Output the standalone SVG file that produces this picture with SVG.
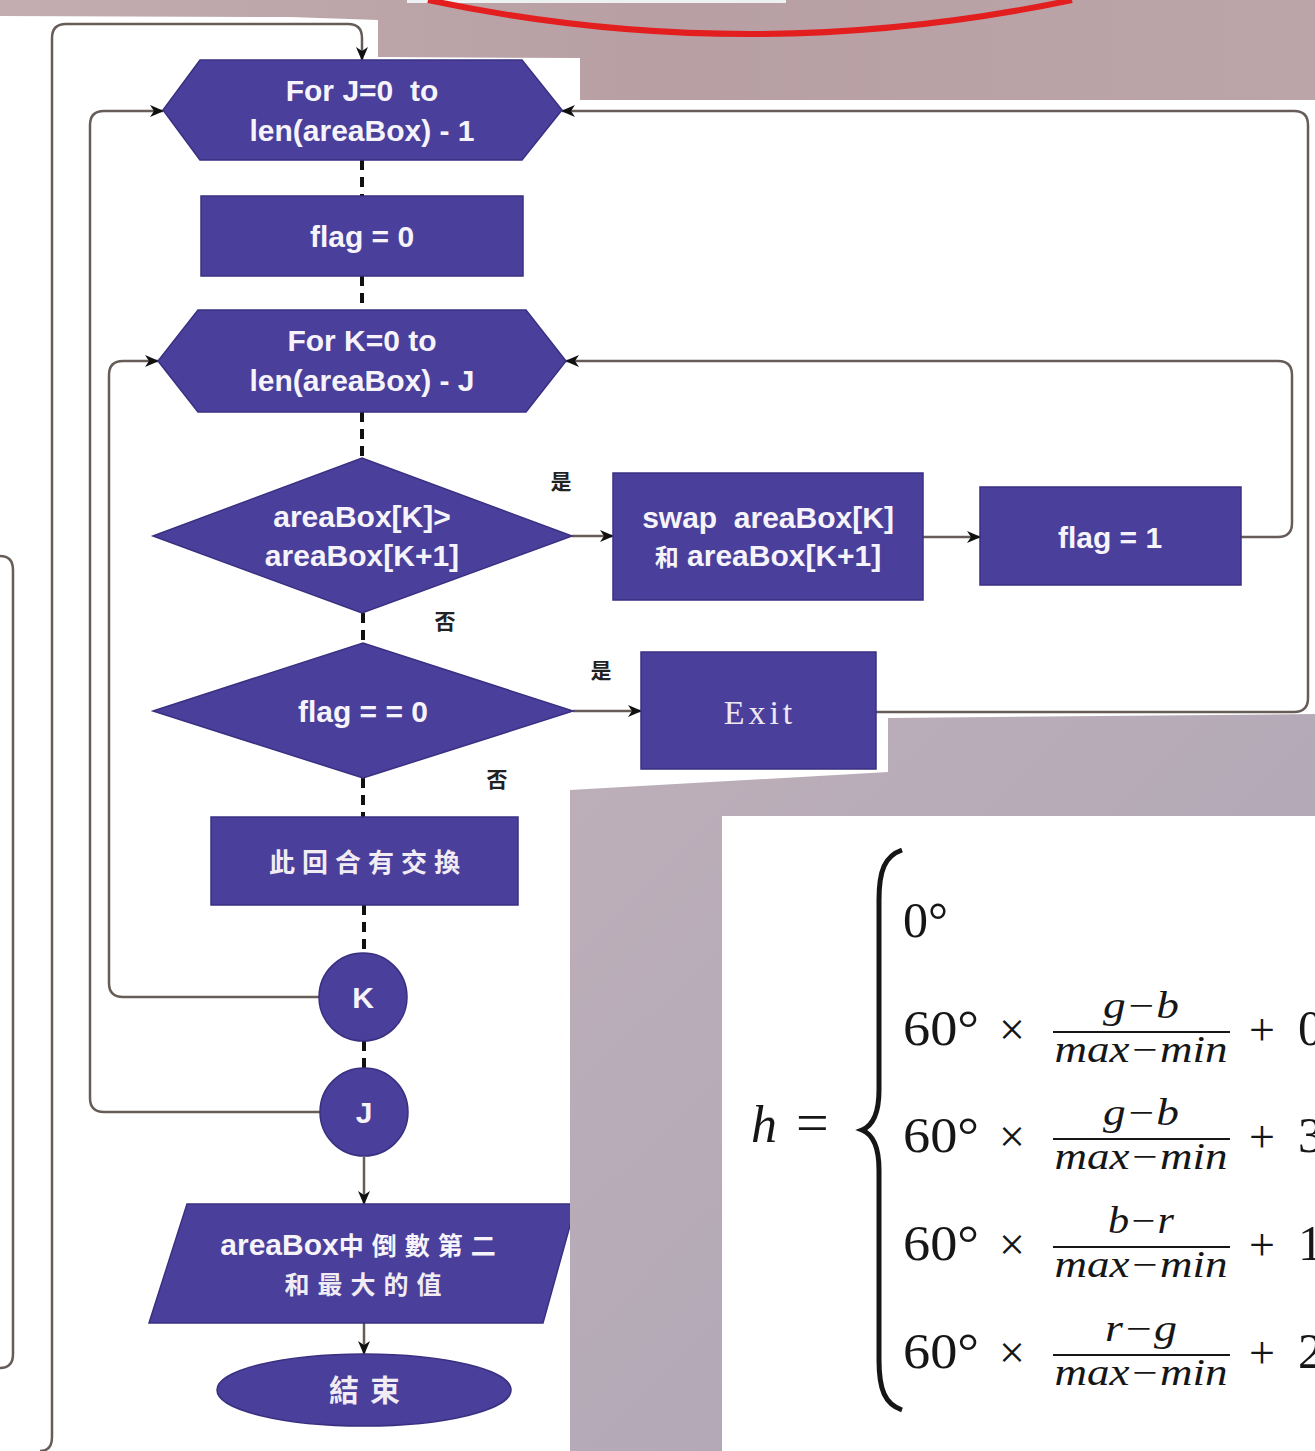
<svg xmlns="http://www.w3.org/2000/svg" width="1315" height="1451" viewBox="0 0 1315 1451">
<defs>
<linearGradient id="pinkTop" x1="0" y1="0" x2="1" y2="0">
<stop offset="0" stop-color="#c3adb0"/><stop offset="0.5" stop-color="#b79fa4"/><stop offset="1" stop-color="#bca5a9"/>
</linearGradient>
<linearGradient id="pinkLow" x1="0" y1="0" x2="1" y2="1">
<stop offset="0" stop-color="#bdafb9"/><stop offset="0.5" stop-color="#b5aab7"/><stop offset="1" stop-color="#aca2b1"/>
</linearGradient>
<marker id="ah" viewBox="0 0 14 12" refX="13" refY="6" markerWidth="14" markerHeight="12" orient="auto" markerUnits="userSpaceOnUse">
<path d="M0,0 L14,6 L0,12 L4,6 z" fill="#111"/>
</marker>
<style>
.node{fill:#4a3f9b;stroke:#3a3082;stroke-width:1.5}
.t{font-family:'Liberation Sans',Arial,'Noto Sans CJK TC',sans-serif;font-weight:bold;font-size:30px;fill:#f6f4fa;text-anchor:middle;white-space:pre}
.cjk{font-family:'Noto Sans CJK TC','Noto Sans CJK SC',sans-serif;font-weight:bold;fill:#f1ecf4;text-anchor:middle}
.lbl{font-family:'Noto Sans CJK TC','Noto Sans CJK SC',sans-serif;font-size:21px;font-weight:bold;fill:#222;text-anchor:middle}
.c{fill:none;stroke:#675d58;stroke-width:2.5}
.d{fill:none;stroke:#111;stroke-width:4;stroke-dasharray:10 7}
.m{font-family:'Liberation Serif','DejaVu Serif',serif;fill:#161616}
.mi{font-family:'Liberation Serif','DejaVu Serif',serif;font-style:italic;fill:#161616;text-anchor:middle;font-size:37px}
.bar{stroke:#161616;stroke-width:2}
</style>
</defs>

<!-- background photo areas -->
<rect x="0" y="0" width="1315" height="1451" fill="url(#pinkTop)"/>
<polygon points="0,16 290,17 378,20 378,57 580,58 580,100 1315,100 1315,1451 0,1451" fill="#ffffff"/>
<rect x="407" y="0" width="379" height="3" fill="#eef1f1"/>
<path d="M 428 0 Q 748 68 1072 0" fill="none" stroke="#e31e1e" stroke-width="6"/>

<!-- connectors -->
<g id="connectors">
<path class="c" d="M 0 556 Q 13 556 13 570 L 13 1354 Q 13 1368 0 1368"/>
<path class="c" d="M 40 1451 Q 52 1451 52 1437 L 52 38 Q 52 24 66 24 L 348 24 Q 362 24 362 38 L 362 60" marker-end="url(#ah)"/>
<path class="c" d="M 320 1112 L 104 1112 Q 90 1112 90 1098 L 90 125 Q 90 111 104 111 L 163 111" marker-end="url(#ah)"/>
<path class="c" d="M 319 997 L 123 997 Q 109 997 109 983 L 109 375 Q 109 361 123 361 L 158 361" marker-end="url(#ah)"/>
<path class="c" d="M 876 712 L 1294 712 Q 1308 712 1308 698 L 1308 125 Q 1308 111 1294 111 L 562 111" marker-end="url(#ah)"/>
<path class="c" d="M 1241 537 L 1278 537 Q 1292 537 1292 523 L 1292 375 Q 1292 361 1278 361 L 566 361" marker-end="url(#ah)"/>
<path class="c" d="M 572 536 L 613 536" marker-end="url(#ah)"/>
<path class="c" d="M 923 537 L 980 537" marker-end="url(#ah)"/>
<path class="c" d="M 573 711 L 641 711" marker-end="url(#ah)"/>
<path class="c" d="M 364 1157 L 364 1204" marker-end="url(#ah)"/>
<path class="c" d="M 364 1323 L 364 1354" marker-end="url(#ah)"/>
<path class="d" d="M 362 160 L 362 196"/>
<path class="d" d="M 362 276 L 362 310"/>
<path class="d" d="M 362 412 L 362 458"/>
<path class="d" d="M 363 613 L 363 643"/>
<path class="d" d="M 363 778 L 363 817"/>
<path class="d" d="M 364 905 L 364 953"/>
<path class="d" d="M 364 1041 L 364 1068"/>
<text class="lbl" x="561" y="489">是</text>
<text class="lbl" x="445" y="629">否</text>
<text class="lbl" x="601" y="678">是</text>
<text class="lbl" x="497" y="787">否</text>
</g>

<!-- nodes -->
<g id="forJ">
<polygon class="node" points="200,60 522,60 562,110 522,160 200,160 163,110"/>
<text class="t" x="362" y="101">For J=0  to</text>
<text class="t" x="362" y="141">len(areaBox) - 1</text>
</g>
<g id="flag0">
<rect class="node" x="201" y="196" width="322" height="80"/>
<text class="t" x="362" y="247">flag = 0</text>
</g>
<g id="forK">
<polygon class="node" points="198,310 526,310 566,361 526,412 198,412 158,361"/>
<text class="t" x="362" y="351">For K=0 to</text>
<text class="t" x="362" y="391">len(areaBox) - J</text>
</g>
<g id="cmp">
<polygon class="node" points="153,536 362,458 572,536 362,613"/>
<text class="t" x="362" y="527">areaBox[K]&gt;</text>
<text class="t" x="362" y="566">areaBox[K+1]</text>
</g>
<g id="swap">
<rect class="node" x="613" y="473" width="310" height="127"/>
<text class="t" x="768" y="528">swap  areaBox[K]</text>
<text class="t" x="768" y="566"><tspan font-family="'Noto Sans CJK TC',sans-serif" font-size="24">和</tspan> areaBox[K+1]</text>
</g>
<g id="flag1">
<rect class="node" x="980" y="487" width="261" height="98"/>
<text class="t" x="1110" y="548">flag = 1</text>
</g>
<g id="flagcheck">
<polygon class="node" points="153,711 363,643 573,711 363,778"/>
<text class="t" x="363" y="722">flag = = 0</text>
</g>
<g id="exit">
<rect class="node" x="641" y="652" width="235" height="117"/>
<text x="760" y="724" font-family="'Liberation Serif','DejaVu Serif',serif" font-size="34" letter-spacing="4" fill="#eee8f2" text-anchor="middle">Exit</text>
</g>
<g id="swapped">
<rect class="node" x="211" y="817" width="307" height="88"/>
<text class="cjk" x="368" y="872" font-size="26" letter-spacing="7">此回合有交換</text>
</g>
<g id="nextK">
<circle class="node" cx="363" cy="997" r="44"/>
<text class="t" x="363" y="1008">K</text>
</g>
<g id="nextJ">
<circle class="node" cx="364" cy="1112" r="44"/>
<text class="t" x="364" y="1123">J</text>
</g>
<g id="output">
<polygon class="node" points="187,1204 576,1204 543,1323 149,1323"/>
<text class="t" x="362" y="1255">areaBox<tspan font-family="'Noto Sans CJK TC',sans-serif" font-size="25" letter-spacing="8">中倒數第二</tspan></text>
<text class="cjk" x="367" y="1294" font-size="25" letter-spacing="8">和最大的值</text>
</g>
<g id="end">
<ellipse class="node" cx="364" cy="1390" rx="147" ry="36"/>
<text class="cjk" x="370" y="1401" font-size="30" letter-spacing="11">結束</text>
</g>

<!-- lower right photo area -->
<polygon points="570,790 888,772 888,718 1315,714 1315,1451 570,1451" fill="url(#pinkLow)"/>

<!-- formula panel -->
<g id="formula">
<rect x="722" y="816" width="593" height="635" fill="#ffffff"/>
<text class="m" x="751" y="1142" font-size="52" font-style="italic">h</text>
<text class="m" x="796" y="1142" font-size="58">=</text>
<path d="M 902 850 C 885 856 879 870 879 900 L 879 1090 C 879 1115 872 1126 862 1130 C 872 1134 879 1145 879 1170 L 879 1360 C 879 1390 885 1404 902 1410" fill="none" stroke="#161616" stroke-width="5"/>
<text class="m" x="903" y="937" font-size="50">0°</text>

<text class="m" x="903" y="1045" font-size="50" textLength="76" lengthAdjust="spacingAndGlyphs">60°</text>
<text class="m" x="999" y="1045" font-size="46">×</text>
<text class="mi" x="1141" y="1018" textLength="76" lengthAdjust="spacingAndGlyphs">g−b</text>
<line class="bar" x1="1053" y1="1032" x2="1230" y2="1032"/>
<text class="mi" x="1141" y="1062" textLength="173" lengthAdjust="spacingAndGlyphs">max−min</text>
<text class="m" x="1249" y="1045" font-size="46">+</text>
<text class="m" x="1298" y="1045" font-size="50">0</text>

<text class="m" x="903" y="1152" font-size="50" textLength="76" lengthAdjust="spacingAndGlyphs">60°</text>
<text class="m" x="999" y="1152" font-size="46">×</text>
<text class="mi" x="1141" y="1125" textLength="76" lengthAdjust="spacingAndGlyphs">g−b</text>
<line class="bar" x1="1053" y1="1139" x2="1230" y2="1139"/>
<text class="mi" x="1141" y="1169" textLength="173" lengthAdjust="spacingAndGlyphs">max−min</text>
<text class="m" x="1249" y="1152" font-size="46">+</text>
<text class="m" x="1298" y="1152" font-size="50">3</text>

<text class="m" x="903" y="1260" font-size="50" textLength="76" lengthAdjust="spacingAndGlyphs">60°</text>
<text class="m" x="999" y="1260" font-size="46">×</text>
<text class="mi" x="1141" y="1233" textLength="66" lengthAdjust="spacingAndGlyphs">b−r</text>
<line class="bar" x1="1053" y1="1247" x2="1230" y2="1247"/>
<text class="mi" x="1141" y="1277" textLength="173" lengthAdjust="spacingAndGlyphs">max−min</text>
<text class="m" x="1249" y="1260" font-size="46">+</text>
<text class="m" x="1298" y="1260" font-size="50">1</text>

<text class="m" x="903" y="1368" font-size="50" textLength="76" lengthAdjust="spacingAndGlyphs">60°</text>
<text class="m" x="999" y="1368" font-size="46">×</text>
<text class="mi" x="1141" y="1341" textLength="72" lengthAdjust="spacingAndGlyphs">r−g</text>
<line class="bar" x1="1053" y1="1355" x2="1230" y2="1355"/>
<text class="mi" x="1141" y="1385" textLength="173" lengthAdjust="spacingAndGlyphs">max−min</text>
<text class="m" x="1249" y="1368" font-size="46">+</text>
<text class="m" x="1298" y="1368" font-size="50">2</text>
</g>
</svg>
